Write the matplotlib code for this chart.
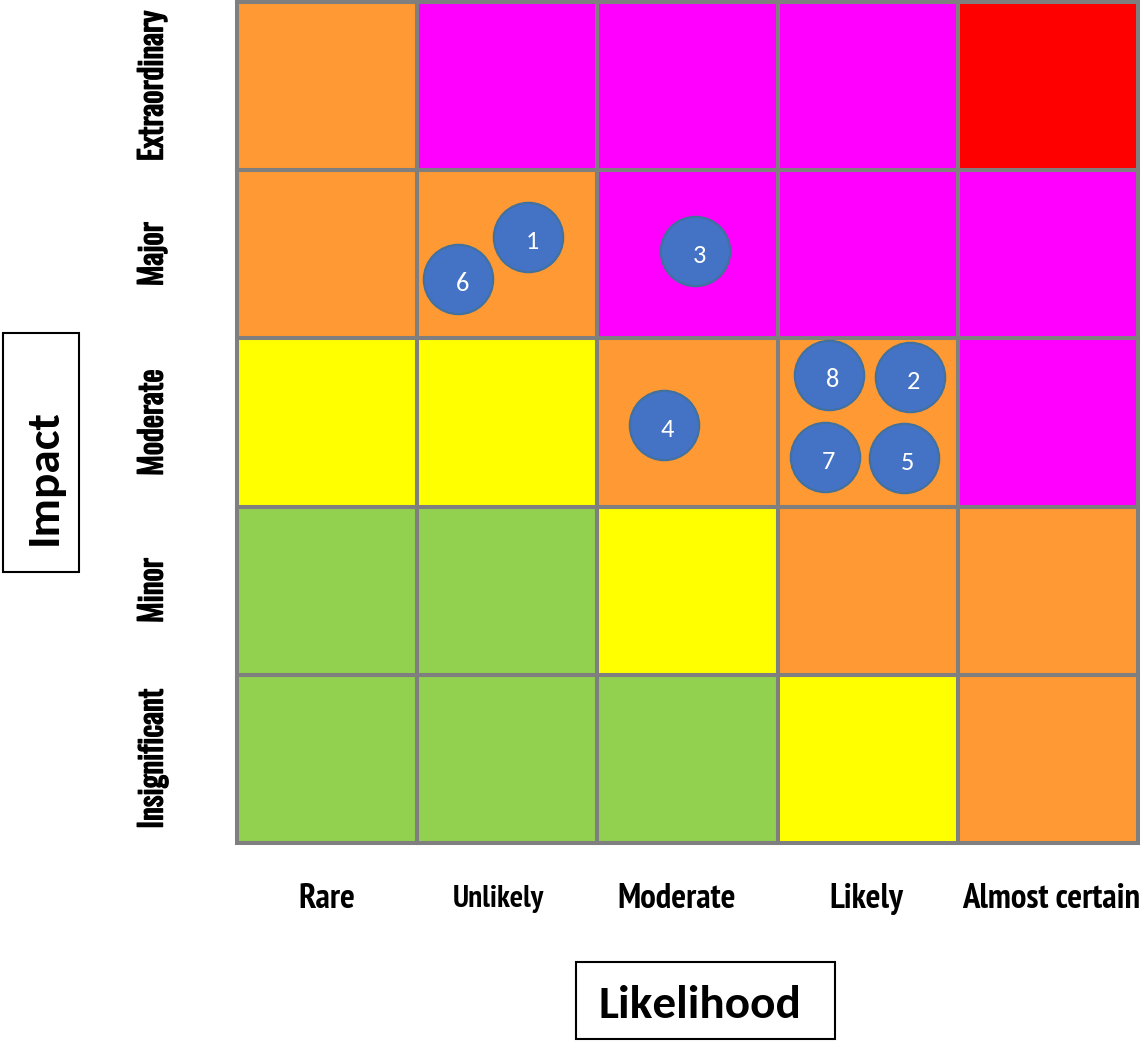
import matplotlib
matplotlib.use("Agg")
import matplotlib.pyplot as plt
import matplotlib.patheffects as pe
from matplotlib.patches import Rectangle

# Axis categories
likelihood = ["Rare", "Unlikely", "Moderate", "Likely", "Almost certain"]
impact = ["Insignificant", "Minor", "Moderate", "Major", "Extraordinary"]

# Risk level per cell, rows from Insignificant (bottom) up to Extraordinary
levels = [
    ["low", "low", "low", "medium", "high"],
    ["low", "low", "medium", "high", "high"],
    ["medium", "medium", "high", "high", "severe"],
    ["high", "high", "severe", "severe", "severe"],
    ["high", "severe", "severe", "severe", "extreme"],
]
level_colors = {
    "low": "#92D050",
    "medium": "#FFFF00",
    "high": "#FF9933",
    "severe": "#FF00FF",
    "extreme": "#FF0000",
}

# Numbered risks placed on the matrix (likelihood, impact in cell units)
risk_ids = ["1", "2", "3", "4", "5", "6", "7", "8"]
risk_x = [1.617, 3.733, 2.544, 2.367, 3.700, 1.228, 3.261, 3.283]
risk_y = [3.603, 2.770, 3.520, 2.485, 2.289, 3.353, 2.295, 2.782]

narrow = ["Oswald", "Fira Sans Extra Condensed", "Liberation Sans", "DejaVu Sans"]
narrow_bold = ["PT Sans Narrow", "Fira Sans Condensed", "Liberation Sans", "DejaVu Sans"]
calibri = ["Carlito", "Lato", "Open Sans", "DejaVu Sans"]

fig = plt.figure(figsize=(11.42, 10.41), dpi=100)
ax = fig.add_axes([237 / 1142, (1041 - 843) / 1041, 901 / 1142, 841 / 1041])
ax.set_xlim(0, 5)
ax.set_ylim(0, 5)
ax.axis("off")

for r, row in enumerate(levels):
    for c, lvl in enumerate(row):
        ax.add_patch(Rectangle((c, r), 1, 1, facecolor=level_colors[lvl],
                               edgecolor="#7F7F7F", linewidth=2.9, clip_on=False))

ax.scatter(risk_x, risk_y, s=2500, color="#4472C4", edgecolors="#41719C",
           linewidths=1.5, zorder=3, clip_on=False)
for rid, x, y in zip(risk_ids, risk_x, risk_y):
    ax.annotate(rid, (x, y), xytext=(3, -3.5), textcoords="offset points",
                ha="center", va="center", color="white", fontsize=19,
                family=calibri, zorder=4)

# Category labels
label_x = [0.5, 1.45, 2.44, 3.49, 4.52]
for x, name in zip(label_x, likelihood):
    size = 22.5 if name == "Unlikely" else 25
    ax.text(x, -0.33, name, ha="center", va="center", fontsize=size,
            fontweight="bold", family=narrow_bold)
# thin stroke to give the condensed face some weight
heavy = [pe.withStroke(linewidth=1.0, foreground="black")]
for i, name in enumerate(impact):
    ax.text(-0.466, i + 0.5, name, ha="center", va="center", rotation=90,
            fontsize=22.5, family=narrow, path_effects=heavy)

# Boxed axis titles
fig.patches.append(Rectangle((3 / 1142, 1 - 572 / 1041), 76 / 1142, 239 / 1041,
                             transform=fig.transFigure, fill=False,
                             edgecolor="black", linewidth=1.5))
fig.text(44 / 1142, 1 - 477 / 1041, "Impact", rotation=90, ha="center",
         va="center", fontsize=34, fontweight="bold", family=calibri)
fig.patches.append(Rectangle((576 / 1142, 0.002), 259 / 1142, 77 / 1041,
                             transform=fig.transFigure, fill=False,
                             edgecolor="black", linewidth=1.5))
fig.text(700 / 1142, 1 - 1005 / 1041, "Likelihood", ha="center",
         va="center", fontsize=34, fontweight="bold", family=calibri)

fig.savefig("out.png", dpi=100)
